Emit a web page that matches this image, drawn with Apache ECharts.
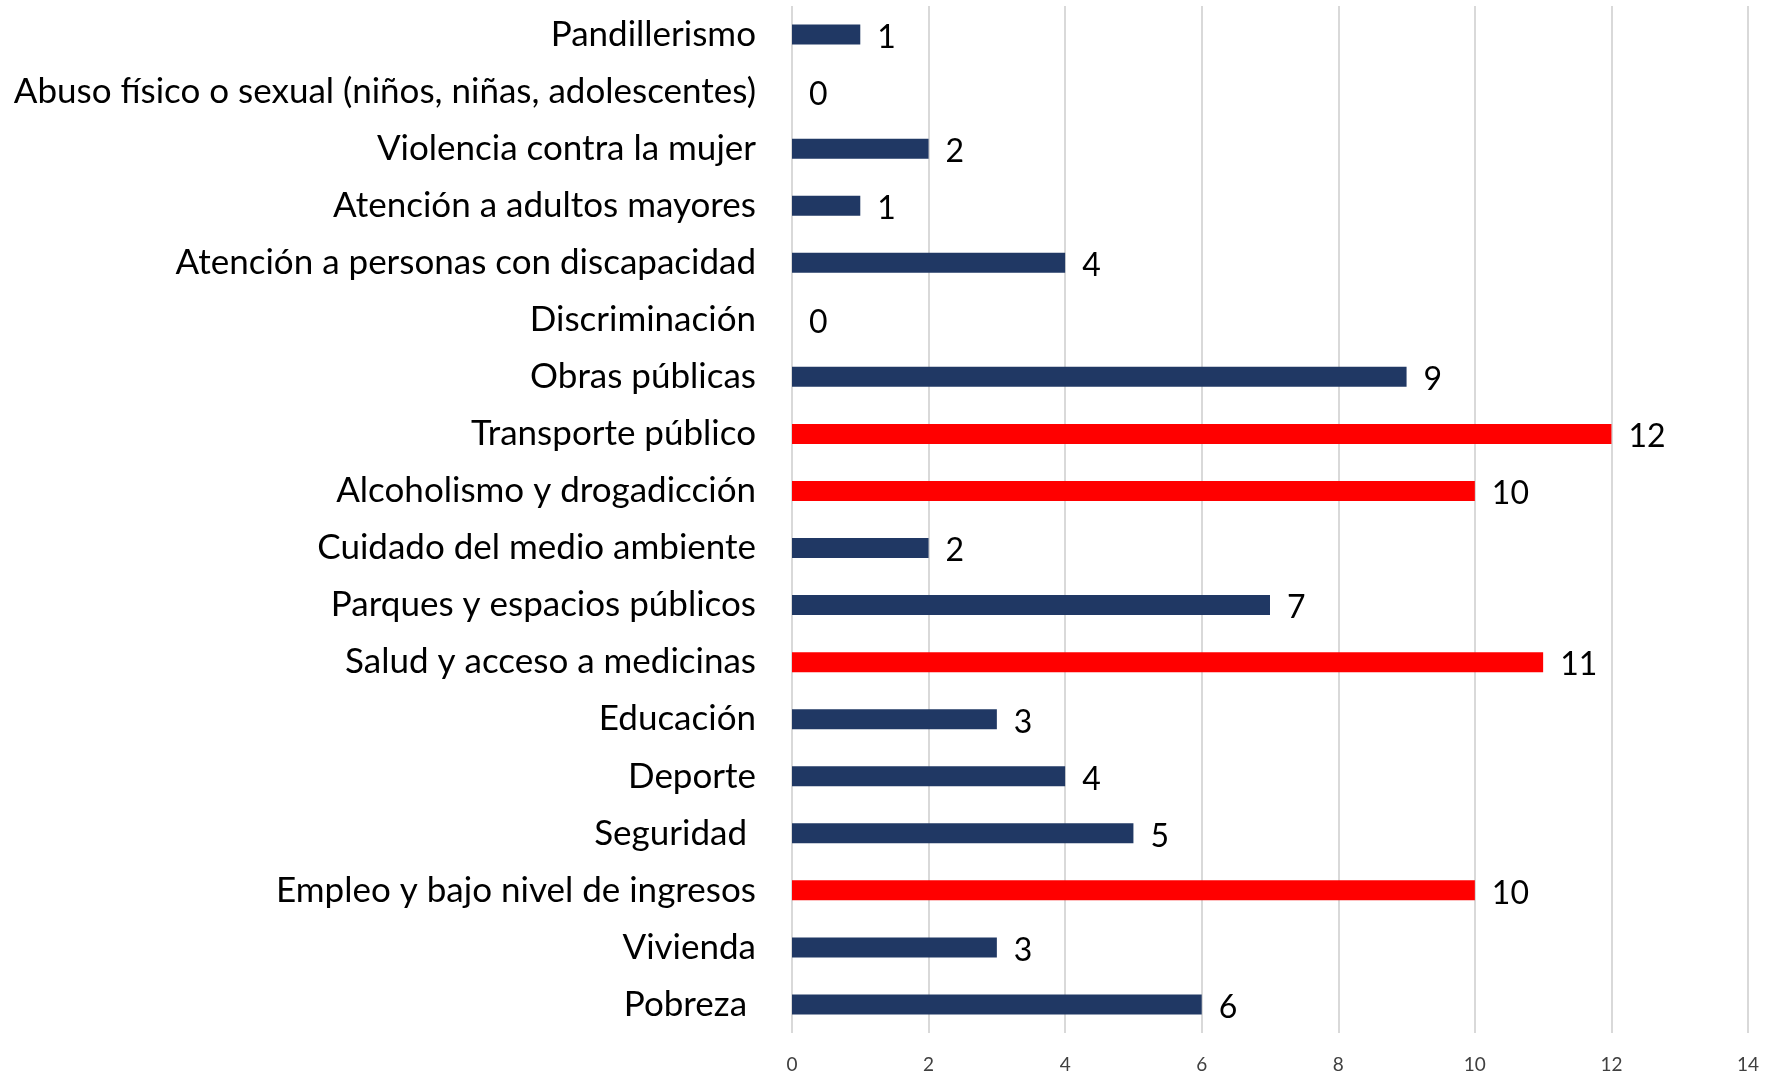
<!DOCTYPE html>
<html>
<head>
<meta charset="utf-8">
<script src="https://cdn.jsdelivr.net/npm/echarts@6/dist/echarts.min.js"></script>
<style>
    html, body { margin: 0; padding: 0; background: #fff; }
    #main { width: 1775px; height: 1076px; }
</style>
</head>
<body>
<div id="main"></div>
<script>
var categories = [
    'Pandillerismo',
    'Abuso físico o sexual (niños, niñas, adolescentes)',
    'Violencia contra la mujer',
    'Atención a adultos mayores',
    'Atención a personas con discapacidad',
    'Discriminación',
    'Obras públicas',
    'Transporte público',
    'Alcoholismo y drogadicción',
    'Cuidado del medio ambiente',
    'Parques y espacios públicos',
    'Salud y acceso a medicinas',
    'Educación',
    'Deporte',
    'Seguridad ',
    'Empleo y bajo nivel de ingresos',
    'Vivienda',
    'Pobreza '
]
var counts = [1, 0, 2, 1, 4, 0, 9, 12, 10, 2, 7, 11, 3, 4, 5, 10, 3, 6]
var xTicks = [0, 2, 4, 6, 8, 10, 12, 14]

var myChart = echarts.init(document.getElementById('main'))
var option = {
    animation: false,
    textStyle: { fontFamily: 'Lato' },
    grid: { left: 792, right: 27, top: 6, bottom: 43 },
    xAxis: {
        type: 'value',
        min: xTicks[0],
        max: xTicks[xTicks.length - 1],
        interval: 2,
        axisLine: { show: false },
        axisTick: { show: false },
        splitLine: { lineStyle: { color: '#d9d9d9', width: 2 } },
        axisLabel: { fontSize: 19, color: '#404040', margin: 22 }
    },
    yAxis: {
        type: 'category',
        data: categories,
        inverse: true,
        axisLine: { show: false },
        axisTick: { show: false },
        axisLabel: { fontSize: 35, color: '#000', margin: 36 }
    },
    series: [{
        type: 'bar',
        barWidth: 20,
        data: counts.map(function (v) {
            return { value: v, itemStyle: { color: v >= 10 ? '#ff0000' : '#203864' } }
        }),
        label: {
            show: true,
            position: 'right',
            distance: 17,
            fontSize: 32,
            color: '#000',
            offset: [0, 3]
        }
    }]
}
myChart.setOption(option)
</script>
</body>
</html>
